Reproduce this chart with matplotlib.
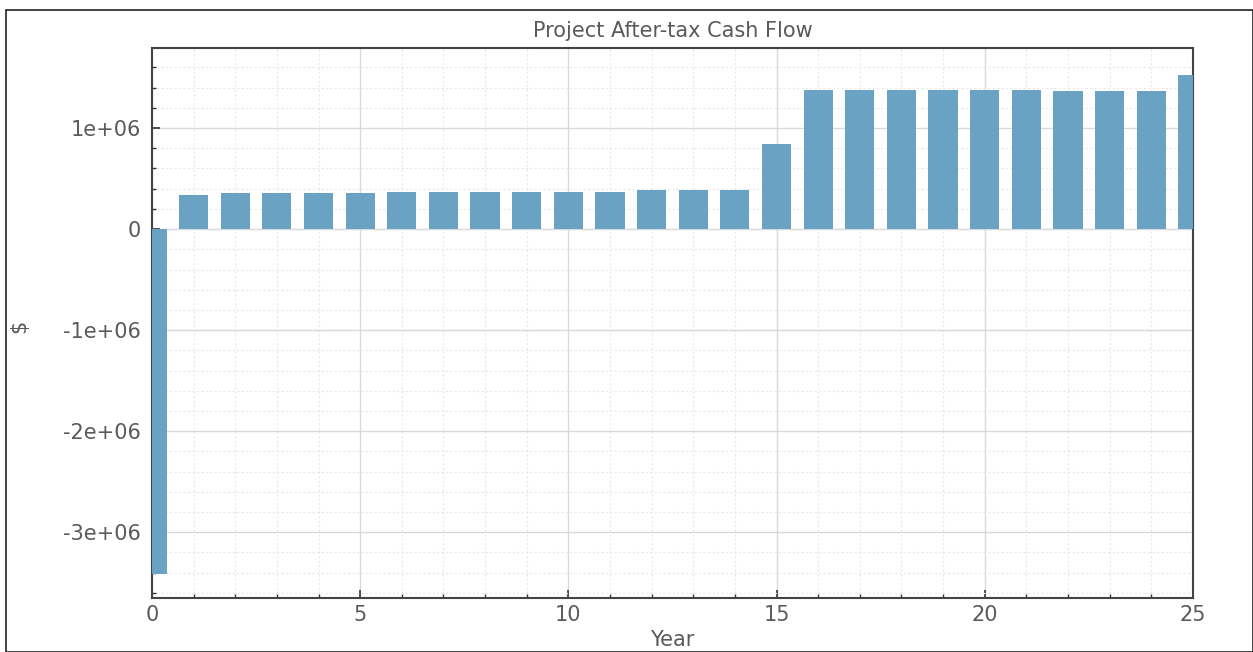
import matplotlib
matplotlib.use('Agg')
import matplotlib.pyplot as plt
from matplotlib.ticker import MultipleLocator, FormatStrFormatter
from matplotlib.patches import Rectangle

# after-tax cash flow by project year
years = list(range(26))
cash_flow = [-3.41e6,
             0.340e6, 0.353e6, 0.353e6, 0.353e6, 0.353e6,
             0.366e6, 0.366e6, 0.366e6, 0.366e6, 0.366e6, 0.366e6,
             0.383e6, 0.383e6, 0.383e6,
             0.840e6,
             1.379e6, 1.379e6, 1.379e6, 1.379e6, 1.379e6, 1.379e6,
             1.362e6, 1.362e6, 1.362e6,
             1.530e6]

plt.rcParams['font.family'] = ['DejaVu Sans']
text_color = '#5a5a5a'
fsize = 15

fig = plt.figure(figsize=(12.53, 6.52), dpi=100)
ax = fig.add_axes([0.1213, 0.083, 0.8307, 0.843])

ax.bar(years, cash_flow, width=0.7, color='#6aa2c4', zorder=3)

ax.set_xlim(0, 25)
ax.set_ylim(-3.65e6, 1.79e6)
ax.xaxis.set_major_locator(MultipleLocator(5))
ax.xaxis.set_minor_locator(MultipleLocator(1))
ax.yaxis.set_major_locator(MultipleLocator(1e6))
ax.yaxis.set_minor_locator(MultipleLocator(2e5))
ax.yaxis.set_major_formatter(FormatStrFormatter('%g'))

ax.grid(True, which='major', color='#d9d9d9', linewidth=1.0, zorder=0)
ax.grid(True, which='minor', color='#e8e8e8', linewidth=0.8, linestyle=(0, (2, 2)), zorder=0)
ax.tick_params(which='both', direction='in', colors='#333333', labelcolor=text_color, labelsize=fsize)
ax.tick_params(which='major', length=6, width=1.2)
ax.tick_params(which='minor', length=3, width=1.0)
ax.tick_params(axis='x', pad=5)
ax.tick_params(axis='y', pad=8)
for s in ax.spines.values():
    s.set_color('#444444')
    s.set_linewidth(1.5)

ax.set_title('Project After-tax Cash Flow', color=text_color, fontsize=fsize, pad=8)
ax.set_xlabel('Year', color=text_color, fontsize=fsize, labelpad=4)
fig.text(0.015, 0.5, '$', rotation=90, color=text_color, fontsize=fsize, va='center', ha='center')

fig.patches.append(Rectangle((0.005, 0.0), 0.995, 0.985, transform=fig.transFigure,
                             fill=False, edgecolor='#222222', linewidth=1.2))

fig.savefig('out.png', dpi=100)
